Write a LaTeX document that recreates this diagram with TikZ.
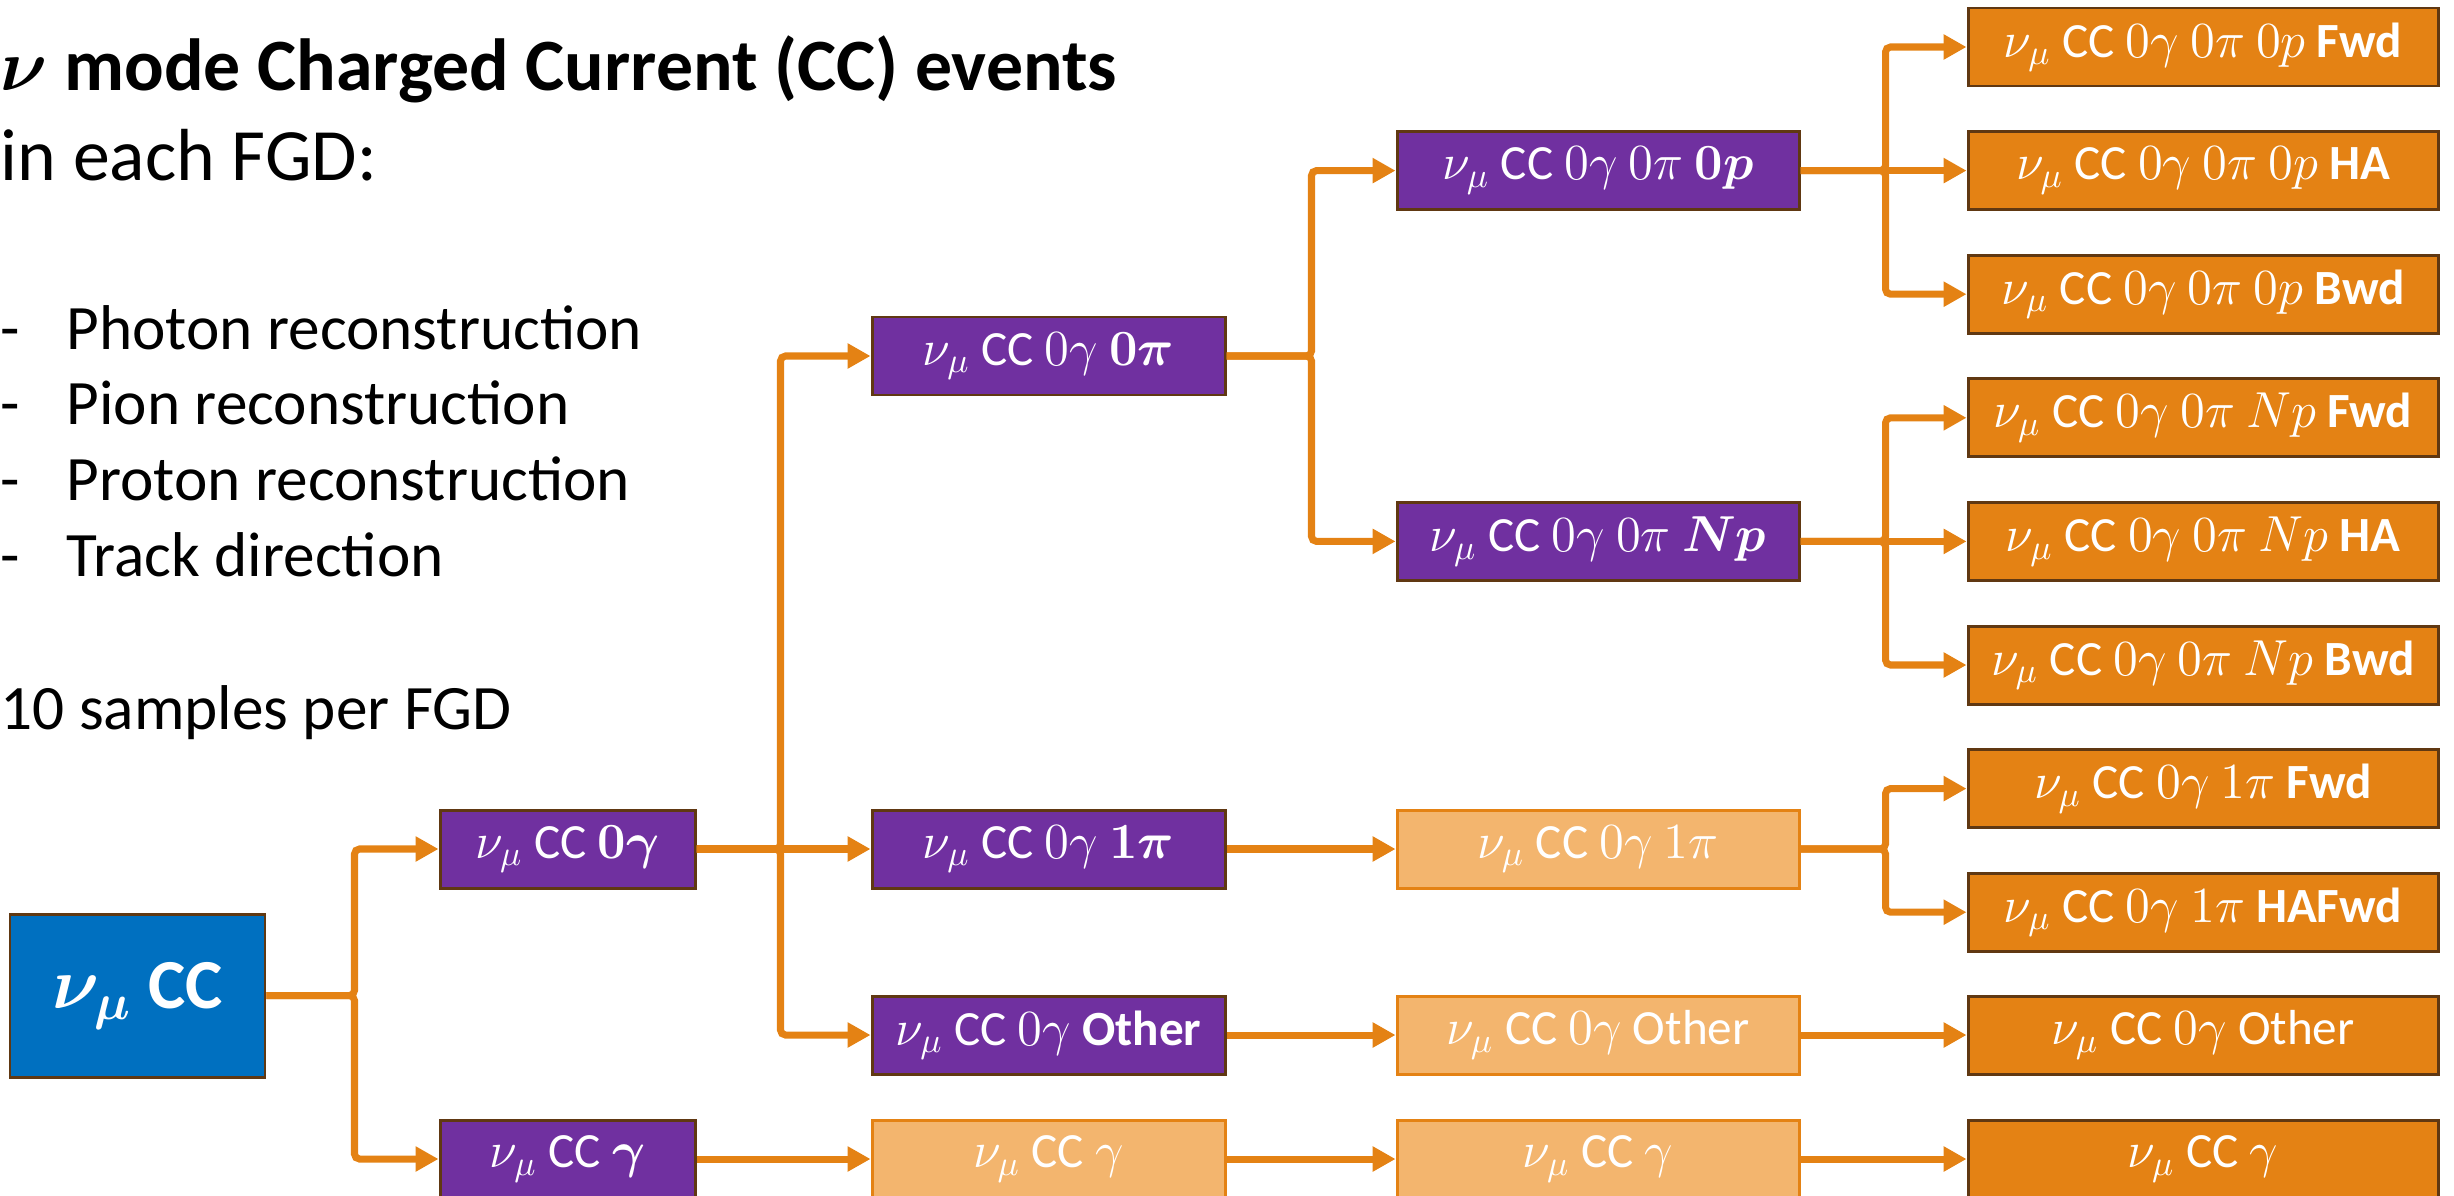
\documentclass[tikz,border=0pt]{standalone}
\usepackage{amsmath}
\usepackage{amssymb}
\usepackage[no-math]{fontspec}
\setmainfont{Carlito}
\usepackage{xcolor}
\usepackage{tikz}
\usetikzlibrary{arrows.meta}

\definecolor{mainorange}{RGB}{228,130,20}
\definecolor{lightorange}{RGB}{243,181,110}
\definecolor{edgebrown}{RGB}{96,56,18}
\definecolor{splitpurple}{RGB}{112,48,160}
\definecolor{rootblue}{RGB}{0,112,192}

\newcommand{\numu}{$\nu_\mu$}

\tikzset{
  box/.style={draw=edgebrown, line width=0.85pt, text=white, minimum height=0.78cm,
    inner sep=0pt, font=\fontsize{14}{16}\selectfont},
  splitbox/.style={box, fill=splitpurple},
  midbox/.style={box, fill=lightorange, draw=mainorange},
  finalbox/.style={box, fill=mainorange},
  colA/.style={minimum width=2.55cm},
  colB/.style={minimum width=3.53cm},
  colC/.style={minimum width=4.02cm},
  colD/.style={minimum width=4.70cm},
  link/.style={draw=mainorange, line width=2pt, rounded corners=0.5mm,
    -{Triangle[length=2.3mm,width=2.4mm]}},
  heading/.style={anchor=base west, inner sep=0pt, font=\fontsize{21}{25}\selectfont},
  listtext/.style={anchor=base west, inner sep=0pt, font=\fontsize{18}{22}\selectfont}
}

\begin{document}
\begin{tikzpicture}
  \useasboundingbox (0,0) rectangle (24.54,-11.95);

  % text on the left
  \node[heading, font=\fontsize{21}{25}\selectfont\bfseries] (title) at (0,-0.90)
    {$\boldsymbol{\nu}$ mode Charged Current (CC) events};
  \node[heading] (perfgd) at (0,-1.80) {in each FGD:};
  \node[listtext] (dashA) at (0,-3.49) {-};
  \node[listtext] (dashB) at (0,-4.24) {-};
  \node[listtext] (dashC) at (0,-5.00) {-};
  \node[listtext] (dashD) at (0,-5.76) {-};
  \node[listtext] (photon) at (0.66,-3.49) {Photon reconstruction};
  \node[listtext] (pion) at (0.66,-4.24) {Pion reconstruction};
  \node[listtext] (proton) at (0.66,-5.00) {Proton reconstruction};
  \node[listtext] (track) at (0.66,-5.76) {Track direction};
  \node[listtext] (samples) at (0,-7.29) {10 samples per FGD};

  % root
  \node[box, fill=rootblue, minimum width=2.55cm, minimum height=1.63cm,
    font=\fontsize{20}{24}\selectfont\bfseries] (numuCC) at (1.375,-9.955)
    {$\boldsymbol{\nu_\mu}$ CC};

  % photon split
  \node[splitbox, colA] (zeroG) at (5.675,-8.49) {\numu{} CC $\boldsymbol{0\gamma}$};
  \node[splitbox, colA] (withG) at (5.675,-11.59) {\numu{} CC $\boldsymbol{\gamma}$};

  % pion split
  \node[splitbox, colB] (zeroPi) at (10.485,-3.56) {\numu{} CC $0\gamma$ $\boldsymbol{0\pi}$};
  \node[splitbox, colB] (onePi) at (10.485,-8.49) {\numu{} CC $0\gamma$ $\boldsymbol{1\pi}$};
  \node[splitbox, colB] (otherA) at (10.485,-10.35) {\numu{} CC $0\gamma$ \textbf{Other}};
  \node[midbox, colB] (gammaA) at (10.485,-11.59) {\numu{} CC $\gamma$};

  % proton split
  \node[splitbox, colC] (zeroP) at (15.98,-1.706) {\numu{} CC $0\gamma$ $0\pi$ $\boldsymbol{0p}$};
  \node[splitbox, colC] (manyP) at (15.98,-5.414) {\numu{} CC $0\gamma$ $0\pi$ $\boldsymbol{Np}$};
  \node[midbox, colC] (onePiB) at (15.98,-8.49) {\numu{} CC $0\gamma$ $1\pi$};
  \node[midbox, colC] (otherB) at (15.98,-10.35) {\numu{} CC $0\gamma$ Other};
  \node[midbox, colC] (gammaB) at (15.98,-11.59) {\numu{} CC $\gamma$};

  % direction split, final samples
  \node[finalbox, colD] (zeroPFwd) at (22.03,-0.470) {\numu{} CC $0\gamma$ $0\pi$ $0p$ \textbf{Fwd}};
  \node[finalbox, colD] (zeroPHA) at (22.03,-1.706) {\numu{} CC $0\gamma$ $0\pi$ $0p$ \textbf{HA}};
  \node[finalbox, colD] (zeroPBwd) at (22.03,-2.942) {\numu{} CC $0\gamma$ $0\pi$ $0p$ \textbf{Bwd}};
  \node[finalbox, colD] (manyPFwd) at (22.03,-4.178) {\numu{} CC $0\gamma$ $0\pi$ $Np$ \textbf{Fwd}};
  \node[finalbox, colD] (manyPHA) at (22.03,-5.414) {\numu{} CC $0\gamma$ $0\pi$ $Np$ \textbf{HA}};
  \node[finalbox, colD] (manyPBwd) at (22.03,-6.650) {\numu{} CC $0\gamma$ $0\pi$ $Np$ \textbf{Bwd}};
  \node[finalbox, colD] (onePiFwd) at (22.03,-7.886) {\numu{} CC $0\gamma$ $1\pi$ \textbf{Fwd}};
  \node[finalbox, colD] (onePiHAFwd) at (22.03,-9.122) {\numu{} CC $0\gamma$ $1\pi$ \textbf{HAFwd}};
  \node[finalbox, colD] (otherC) at (22.03,-10.35) {\numu{} CC $0\gamma$ Other};
  \node[finalbox, colD] (gammaC) at (22.03,-11.59) {\numu{} CC $\gamma$};

  % connectors
  \draw[link] (numuCC.east) -- ++(0.88,0) |- (zeroG.west);
  \draw[link] (numuCC.east) -- ++(0.88,0) |- (withG.west);
  \draw[link] (zeroG.east) -- (onePi.west);
  \draw[link] (zeroG.east) -- ++(0.84,0) |- (zeroPi.west);
  \draw[link] (zeroG.east) -- ++(0.84,0) |- (otherA.west);
  \draw[link] (withG) -- (gammaA);
  \draw[link] (zeroPi.east) -- ++(0.85,0) |- (zeroP.west);
  \draw[link] (zeroPi.east) -- ++(0.85,0) |- (manyP.west);
  \draw[link] (onePi) -- (onePiB);
  \draw[link] (otherA) -- (otherB);
  \draw[link] (gammaA) -- (gammaB);
  \draw[link] (zeroP.east) -- ++(0.85,0) |- (zeroPFwd.west);
  \draw[link] (zeroP) -- (zeroPHA);
  \draw[link] (zeroP.east) -- ++(0.85,0) |- (zeroPBwd.west);
  \draw[link] (manyP.east) -- ++(0.85,0) |- (manyPFwd.west);
  \draw[link] (manyP) -- (manyPHA);
  \draw[link] (manyP.east) -- ++(0.85,0) |- (manyPBwd.west);
  \draw[link] (onePiB.east) -- ++(0.85,0) |- (onePiFwd.west);
  \draw[link] (onePiB.east) -- ++(0.85,0) |- (onePiHAFwd.west);
  \draw[link] (otherB) -- (otherC);
  \draw[link] (gammaB) -- (gammaC);
\end{tikzpicture}
\end{document}
